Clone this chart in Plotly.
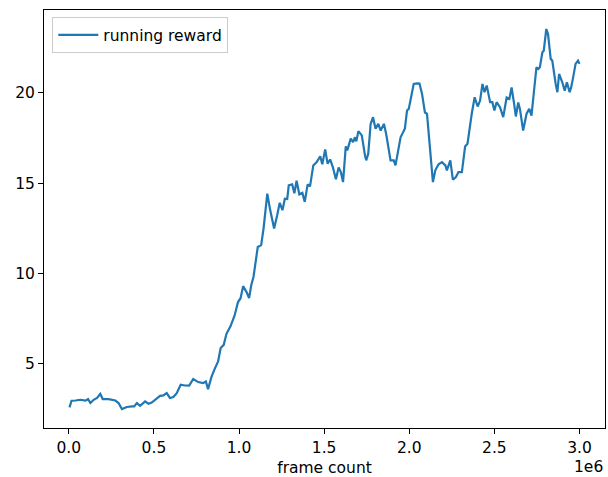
import plotly.graph_objects as go

# Running reward logged during training, sampled against environment frames
frame_count = [
    4000, 16000, 39000, 68000, 98000, 113000, 127000, 146000, 166000, 185000,
    199000, 234000, 273000, 292000, 312000, 341000, 371000, 384000, 400000, 419000,
    448000, 468000, 487000, 517000, 536000, 555000, 575000, 594000, 614000, 634000,
    657000, 682000, 707000, 731000, 760000, 789000, 805000, 818000, 838000, 857000,
    877000, 892000, 910000, 926000, 949000, 974000, 994000, 1009000, 1024000, 1044000,
    1059000, 1072000, 1085000, 1110000, 1130000, 1144000, 1166000, 1182000, 1206000, 1224000,
    1239000, 1255000, 1269000, 1283000, 1292000, 1312000, 1325000, 1338000, 1354000, 1372000,
    1386000, 1403000, 1417000, 1436000, 1455000, 1477000, 1489000, 1506000, 1520000, 1535000,
    1551000, 1569000, 1585000, 1598000, 1611000, 1627000, 1636000, 1656000, 1670000, 1681000,
    1689000, 1701000, 1721000, 1740000, 1747000, 1759000, 1773000, 1787000, 1802000, 1818000,
    1832000, 1851000, 1864000, 1890000, 1909000, 1919000, 1939000, 1949000, 1974000, 1987000,
    1997000, 2026000, 2046000, 2060000, 2075000, 2092000, 2104000, 2124000, 2139000, 2153000,
    2172000, 2192000, 2212000, 2221000, 2241000, 2256000, 2274000, 2289000, 2309000, 2328000,
    2342000, 2367000, 2384000, 2402000, 2416000, 2430000, 2442000, 2455000, 2475000, 2488000,
    2500000, 2513000, 2533000, 2552000, 2572000, 2588000, 2601000, 2616000, 2626000, 2640000,
    2650000, 2669000, 2689000, 2705000, 2718000, 2732000, 2747000, 2758000, 2767000, 2782000,
    2790000, 2805000, 2815000, 2831000, 2840000, 2860000, 2870000, 2880000, 2899000, 2913000,
    2926000, 2942000, 2951000, 2961000, 2977000, 2991000, 3000000,
]

running_reward = [
    2.59, 2.96, 2.97, 3.01, 2.96, 3.05, 2.83, 3.01, 3.11, 3.34,
    3.05, 3.05, 2.97, 2.83, 2.50, 2.61, 2.64, 2.64, 2.83, 2.68,
    2.92, 2.79, 2.86, 3.11, 3.23, 3.25, 3.38, 3.11, 3.16, 3.38,
    3.84, 3.80, 3.79, 4.16, 3.99, 3.93, 4.02, 3.60, 4.28, 4.72,
    5.13, 5.88, 6.05, 6.66, 7.06, 7.68, 8.42, 8.63, 9.30, 8.97,
    8.64, 9.36, 9.82, 11.47, 11.57, 12.49, 14.42, 13.55, 12.49, 13.22,
    13.91, 13.50, 14.14, 14.12, 14.88, 14.93, 14.44, 15.13, 14.38, 14.46,
    13.96, 14.93, 14.82, 15.98, 16.15, 16.48, 16.04, 16.87, 16.08, 16.31,
    15.89, 15.21, 15.87, 15.61, 15.06, 17.03, 16.81, 17.46, 17.27, 17.54,
    17.31, 17.88, 17.64, 16.53, 16.26, 16.63, 18.28, 18.65, 18.01, 18.28,
    17.91, 18.28, 17.73, 16.26, 16.26, 15.98, 16.99, 17.54, 18.01, 19.02,
    19.11, 20.49, 20.52, 20.51, 19.94, 18.91, 18.84, 16.63, 15.06, 15.71,
    16.04, 16.16, 15.98, 15.71, 16.26, 15.19, 15.34, 15.61, 15.61, 17.03,
    17.18, 18.84, 19.75, 19.24, 19.57, 20.49, 20.03, 20.40, 19.48, 19.48,
    19.02, 19.48, 19.20, 18.65, 19.74, 19.66, 20.29, 19.39, 18.69, 19.46,
    19.11, 17.91, 18.84, 19.11, 18.74, 20.03, 21.41, 21.32, 21.41, 22.24,
    22.33, 23.53, 23.25, 21.87, 21.78, 20.49, 20.03, 21.04, 20.58, 20.12,
    20.58, 20.03, 20.30, 20.77, 21.60, 21.78, 21.60,
]

x_tick_values = [0, 500000, 1000000, 1500000, 2000000, 2500000, 3000000]
x_tick_labels = ["0.0", "0.5", "1.0", "1.5", "2.0", "2.5", "3.0"]
y_tick_values = [5, 10, 15, 20]
y_tick_labels = ["5", "10", "15", "20"]


def padded_range(values, pad=0.05):
    lo, hi = min(values), max(values)
    span = hi - lo
    return [lo - pad * span, hi + pad * span]


FONT = "DejaVu Sans"
FS = 15.5
W, H = 608, 477
M_L, M_R, M_T, M_B = 44, 3, 10, 49

fig = go.Figure()
fig.add_trace(
    go.Scatter(
        x=frame_count,
        y=running_reward,
        mode="lines",
        name="running reward",
        line=dict(color="#1f77b4", width=2.2),
    )
)

axis_common = dict(
    showgrid=False,
    zeroline=False,
    showline=True,
    mirror=True,
    linecolor="black",
    linewidth=1,
    ticks="outside",
    ticklen=5,
    tickwidth=1,
    tickcolor="black",
    tickfont=dict(family=FONT, size=FS, color="black"),
)

fig.update_layout(
    width=W,
    height=H,
    margin=dict(l=M_L, r=M_R, t=M_T, b=M_B, pad=0),
    paper_bgcolor="white",
    plot_bgcolor="white",
    font=dict(family=FONT, size=FS, color="black"),
    xaxis=dict(
        axis_common,
        range=padded_range(frame_count),
        tickvals=x_tick_values,
        ticktext=x_tick_labels,
        title=dict(text="frame count", font=dict(family=FONT, size=FS), standoff=6),
        automargin=False,
    ),
    yaxis=dict(
        axis_common,
        range=padded_range(running_reward),
        tickvals=y_tick_values,
        ticktext=y_tick_labels,
        automargin=False,
    ),
    showlegend=True,
    legend=dict(
        x=0.0148,
        y=0.9825,
        xanchor="left",
        yanchor="top",
        itemwidth=40,
        bgcolor="rgba(255,255,255,0.8)",
        bordercolor="#cccccc",
        borderwidth=1,
        font=dict(family=FONT, size=FS, color="black"),
    ),
    annotations=[
        dict(
            text="1e6",
            xref="paper",
            yref="paper",
            x=1.0,
            y=-0.093,
            xanchor="right",
            yanchor="middle",
            showarrow=False,
            font=dict(family=FONT, size=FS, color="black"),
        )
    ],
)

fig.write_html("out.html")
